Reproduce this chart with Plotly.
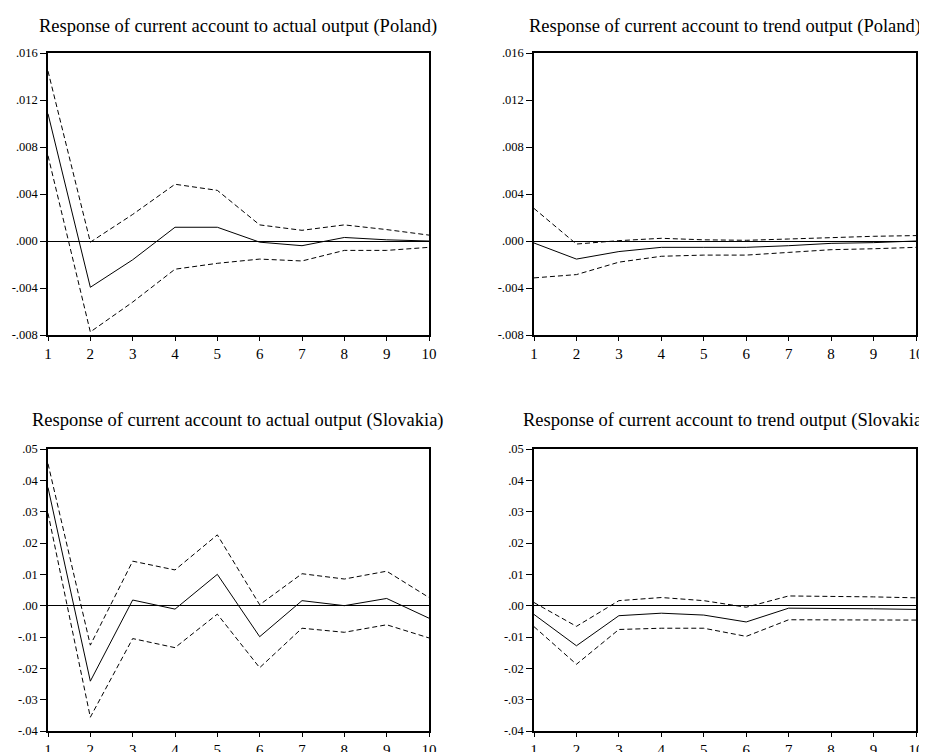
import plotly.graph_objects as go

periods = [1, 2, 3, 4, 5, 6, 7, 8, 9, 10]

titles = [
    "Response of current account to actual output (Poland)",
    "Response of current account to trend output (Poland)",
    "Response of current account to actual output (Slovakia)",
    "Response of current account to trend output (Slovakia)",
]

# Poland, actual output
pl_act_resp = [0.01083, -0.00394, -0.0016, 0.00117, 0.00117, -0.0001, -0.0004, 0.0003, 0.0001, 0.0]
pl_act_up = [0.01446, -0.0001, 0.00226, 0.00483, 0.00431, 0.00137, 0.00091, 0.00137, 0.00097, 0.0005]
pl_act_lo = [0.00726, -0.00774, -0.0052, -0.0024, -0.0019, -0.00154, -0.0017, -0.0008, -0.0008, -0.00054]

# Poland, trend output
pl_tr_resp = [-0.00017, -0.00154, -0.0009, -0.00054, -0.00054, -0.00054, -0.0004, -0.0002, -0.00014, 0.0]
pl_tr_up = [0.00277, -0.00026, 0.00003, 0.00023, 0.0001, 0.00006, 0.00017, 0.0003, 0.0004, 0.00046]
pl_tr_lo = [-0.00314, -0.00286, -0.0018, -0.0013, -0.0012, -0.0012, -0.00097, -0.00074, -0.00066, -0.00054]

# Slovakia, actual output
sk_act_resp = [0.0377, -0.0241, 0.0018, -0.0011, 0.0100, -0.0099, 0.0016, 0.0, 0.0023, -0.0040]
sk_act_up = [0.0453, -0.0126, 0.0142, 0.0114, 0.0226, 0.0003, 0.0102, 0.0085, 0.0110, 0.0026]
sk_act_lo = [0.0295, -0.0356, -0.0105, -0.0134, -0.0027, -0.0198, -0.0072, -0.0085, -0.0061, -0.0103]

# Slovakia, trend output
sk_tr_resp = [-0.0028, -0.0128, -0.0032, -0.0024, -0.0030, -0.0052, -0.0008, -0.0008, -0.0010, -0.0012]
sk_tr_up = [0.0010, -0.0066, 0.0016, 0.0026, 0.0016, -0.0005, 0.0031, 0.0030, 0.0028, 0.0025]
sk_tr_lo = [-0.0067, -0.0187, -0.0076, -0.0072, -0.0072, -0.0098, -0.0045, -0.0045, -0.0045, -0.0046]

pl_ticks = [-0.008, -0.004, 0.0, 0.004, 0.008, 0.012, 0.016]
pl_ticktext = ["-.008", "-.004", ".000", ".004", ".008", ".012", ".016"]
sk_ticks = [-0.04, -0.03, -0.02, -0.01, 0.0, 0.01, 0.02, 0.03, 0.04, 0.05]
sk_ticktext = ["-.04", "-.03", "-.02", "-.01", ".00", ".01", ".02", ".03", ".04", ".05"]
x_ticktext = [str(p) for p in periods]

# page body has an 8px margin; the figure sits at (8, 8)
OFF = 8
W, H = 927 - OFF, 752 - OFF
FONT = "Liberation Serif"

panels = [
    (pl_act_resp, pl_act_up, pl_act_lo, pl_ticks, pl_ticktext, [-0.008, 0.016]),
    (pl_tr_resp, pl_tr_up, pl_tr_lo, pl_ticks, pl_ticktext, [-0.008, 0.016]),
    (sk_act_resp, sk_act_up, sk_act_lo, sk_ticks, sk_ticktext, [-0.04, 0.05]),
    (sk_tr_resp, sk_tr_up, sk_tr_lo, sk_ticks, sk_ticktext, [-0.04, 0.05]),
]

# pixel boxes in page coordinates (left, right, top, bottom)
boxes = [
    (48, 429, 53, 335),
    (534, 916, 53, 335),
    (48, 429, 449, 731),
    (534, 916, 449, 731),
]
title_y = [27, 27, 421, 421]

fig = go.Figure()
layout = {}
annotations = []
for i, (resp, up, lo, tv, tt, yr) in enumerate(panels):
    n = i + 1
    xa = "x" if n == 1 else f"x{n}"
    ya = "y" if n == 1 else f"y{n}"
    for series, dash in ((up, "5px,3px"), (lo, "5px,3px"), (resp, "solid")):
        fig.add_trace(go.Scatter(
            x=periods, y=series, mode="lines", xaxis=xa, yaxis=ya,
            line=dict(color="black", width=1, dash=dash), showlegend=False,
            hoverinfo="skip",
        ))
    l, r, t, b = [v - OFF for v in boxes[i]]
    axis_common = dict(
        showline=True, linecolor="black", linewidth=1.5, mirror=True,
        ticks="outside", tickwidth=1, tickcolor="black",
        showgrid=False, automargin=False,
    )
    layout[f"xaxis{n if n > 1 else ''}"] = dict(
        domain=[l / W, r / W], anchor=ya, range=[1, 10],
        tickmode="array", tickvals=periods, ticktext=x_ticktext,
        zeroline=False, ticklen=4, ticklabelstandoff=0,
        tickfont=dict(family=FONT, size=15, color="black"), **axis_common,
    )
    layout[f"yaxis{n if n > 1 else ''}"] = dict(
        domain=[1 - b / H, 1 - t / H], anchor=xa, range=yr,
        tickmode="array", tickvals=tv, ticktext=tt,
        zeroline=True, zerolinecolor="black", zerolinewidth=1,
        ticklen=6, ticklabelstandoff=0,
        tickfont=dict(family=FONT, size=12.5, color="black"), **axis_common,
    )
    annotations.append(dict(
        text=titles[i], x=(l + r) / 2 / W, y=1 - (title_y[i] - OFF) / H,
        xref="paper", yref="paper", xanchor="center", yanchor="middle",
        showarrow=False, font=dict(family=FONT, size=18.5, color="black"),
    ))

fig.update_layout(
    template="none",
    width=W, height=H, margin=dict(l=0, r=0, t=0, b=0, autoexpand=False),
    paper_bgcolor="white", plot_bgcolor="white",
    annotations=annotations, **layout,
)

fig.write_html("out.html")
